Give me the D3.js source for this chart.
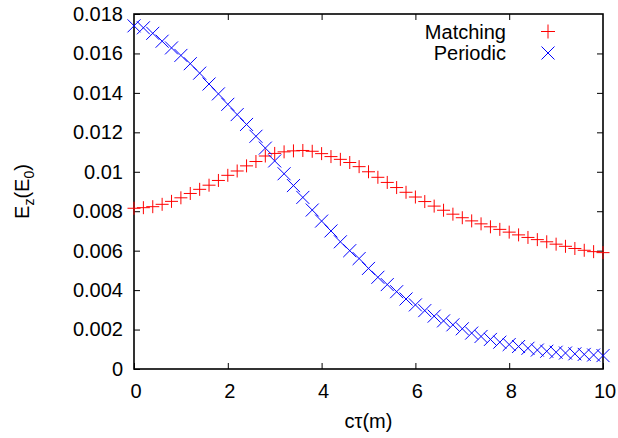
<!DOCTYPE html>
<html>
<head>
<meta charset="utf-8">
<script src="https://cdn.jsdelivr.net/npm/d3@7"></script>
<style>
  html, body { margin: 0; padding: 0; background: #fff; }
  svg { display: block; }
  text { font-family: "Liberation Sans", Arial, Helvetica, sans-serif; fill: #000; }
</style>
</head>
<body>
<svg id="chart" width="618" height="438"></svg>
<script>
// ---- data ----
const ctValues = [0,0.2,0.4,0.6,0.8,1.0,1.2,1.4,1.6,1.8,2.0,2.2,2.4,2.6,2.8,3.0,3.2,3.4,3.6,3.8,4.0,4.2,4.4,4.6,4.8,5.0,5.2,5.4,5.6,5.8,6.0,6.2,6.4,6.6,6.8,7.0,7.2,7.4,7.6,7.8,8.0,8.2,8.4,8.6,8.8,9.0,9.2,9.4,9.6,9.8,10.0];
const matching = [0.00815,0.00818,0.00823,0.00835,0.00850,0.00868,0.00890,0.00911,0.00932,0.00956,0.00982,0.01004,0.01030,0.01052,0.01080,0.01093,0.01101,0.01106,0.01108,0.01104,0.01092,0.01077,0.01063,0.01047,0.01026,0.01000,0.00972,0.00946,0.00920,0.00896,0.00872,0.00849,0.00826,0.00805,0.00785,0.00767,0.00751,0.00736,0.00721,0.00708,0.00694,0.00680,0.00667,0.00656,0.00645,0.00633,0.00622,0.00611,0.00602,0.00595,0.00590];
const periodic = [0.01740,0.01730,0.01702,0.01662,0.01628,0.01590,0.01548,0.01500,0.01445,0.01395,0.01342,0.01290,0.01240,0.01180,0.01120,0.01055,0.00990,0.00930,0.00870,0.00806,0.00750,0.00700,0.00645,0.00600,0.00560,0.00510,0.00465,0.00428,0.00392,0.00355,0.00325,0.00296,0.00268,0.00244,0.00224,0.00204,0.00182,0.00165,0.00150,0.00136,0.00124,0.00114,0.00105,0.00096,0.00090,0.00085,0.00081,0.00077,0.00074,0.00071,0.00068];
const seriesNames = ["Matching", "Periodic"];
const xTickValues = [0, 2, 4, 6, 8, 10];
const xTickLabels = ["0", "2", "4", "6", "8", "10"];
const yTickValues = [0, 0.002, 0.004, 0.006, 0.008, 0.010, 0.012, 0.014, 0.016, 0.018];
const yTickLabels = ["0", "0.002", "0.004", "0.006", "0.008", "0.01", "0.012", "0.014", "0.016", "0.018"];

// ---- layout ----
const L = 134, R = 603, T = 14, B = 369;
const svg = d3.select("#chart");
const x = d3.scaleLinear().domain([0, 10]).range([L, R]);
const y = d3.scaleLinear().domain([0, 0.018]).range([B, T]);
const FS = 20, TICK = 6, MS = 6.5;

function styleAxis(g) {
  g.select(".domain").remove();
  g.selectAll(".tick line").attr("stroke", "#000").attr("stroke-width", 1);
  g.selectAll(".tick text").attr("font-size", FS).attr("fill", "#000")
    .attr("font-family", '"Liberation Sans", Arial, Helvetica, sans-serif');
}

// bottom axis (labels)
svg.append("g").attr("transform", `translate(0,${B})`)
  .call(d3.axisBottom(x).tickValues(xTickValues).tickSize(-TICK).tickPadding(15)
    .tickFormat((d, i) => xTickLabels[i]))
  .call(styleAxis)
  .call(g => g.selectAll(".tick text").attr("dx", 1.5));
// top axis (ticks only)
svg.append("g").attr("transform", `translate(0,${T})`)
  .call(d3.axisTop(x).tickValues(xTickValues.slice(1, -1)).tickSize(-TICK).tickFormat(""))
  .call(styleAxis);
// left axis (labels)
svg.append("g").attr("transform", `translate(${L},0)`)
  .call(d3.axisLeft(y).tickValues(yTickValues).tickSize(-TICK).tickPadding(11)
    .tickFormat((d, i) => yTickLabels[i]))
  .call(styleAxis);
// right axis (ticks only)
svg.append("g").attr("transform", `translate(${R},0)`)
  .call(d3.axisRight(y).tickValues(yTickValues.slice(1, -1)).tickSize(-TICK).tickFormat(""))
  .call(styleAxis);

// frame
svg.append("rect").attr("x", L).attr("y", T).attr("width", R - L).attr("height", B - T)
  .attr("fill", "none").attr("stroke", "#000").attr("stroke-width", 1.6);

// markers
const plusPath = (cx, cy, s) => `M${cx - s},${cy}H${cx + s}M${cx},${cy - s}V${cy + s}`;
const crossPath = (cx, cy, s) => `M${cx - s},${cy - s}L${cx + s},${cy + s}M${cx - s},${cy + s}L${cx + s},${cy - s}`;

const plotArea = svg.append("g");
plotArea.selectAll("path.matching").data(ctValues).join("path")
  .attr("class", "matching")
  .attr("d", (d, i) => plusPath(x(d), y(matching[i]), MS))
  .attr("stroke", "#ff0000").attr("stroke-width", 1).attr("fill", "none");
plotArea.selectAll("path.periodic").data(ctValues).join("path")
  .attr("class", "periodic")
  .attr("d", (d, i) => crossPath(x(d), y(periodic[i]), MS))
  .attr("stroke", "#0000ff").attr("stroke-width", 1).attr("fill", "none");

// legend
const legend = svg.append("g");
const legY = [31.5, 53];
legend.append("text").attr("x", 506).attr("y", legY[0] + 7.2).attr("text-anchor", "end")
  .attr("font-size", FS).text(seriesNames[0]);
legend.append("text").attr("x", 506).attr("y", legY[1] + 7.2).attr("text-anchor", "end")
  .attr("font-size", FS).text(seriesNames[1]);
legend.append("path").attr("d", plusPath(548, legY[0], 7))
  .attr("stroke", "#ff0000").attr("stroke-width", 1).attr("fill", "none");
legend.append("path").attr("d", crossPath(548, legY[1], 6.5))
  .attr("stroke", "#0000ff").attr("stroke-width", 1).attr("fill", "none");

// axis titles
svg.append("text").attr("x", (L + R) / 2).attr("y", 428).attr("text-anchor", "middle")
  .attr("font-size", FS).text("cτ(m)");

const yt = svg.append("text")
  .attr("transform", `translate(29,${(T + B) / 2}) rotate(-90)`)
  .attr("text-anchor", "middle").attr("font-size", FS);
yt.append("tspan").text("E");
yt.append("tspan").attr("font-size", 14).attr("dy", 5).text("z");
yt.append("tspan").attr("dy", -5).text("(E");
yt.append("tspan").attr("font-size", 14).attr("dy", 5).text("0");
yt.append("tspan").attr("dy", -5).text(")");
</script>
</body>
</html>
